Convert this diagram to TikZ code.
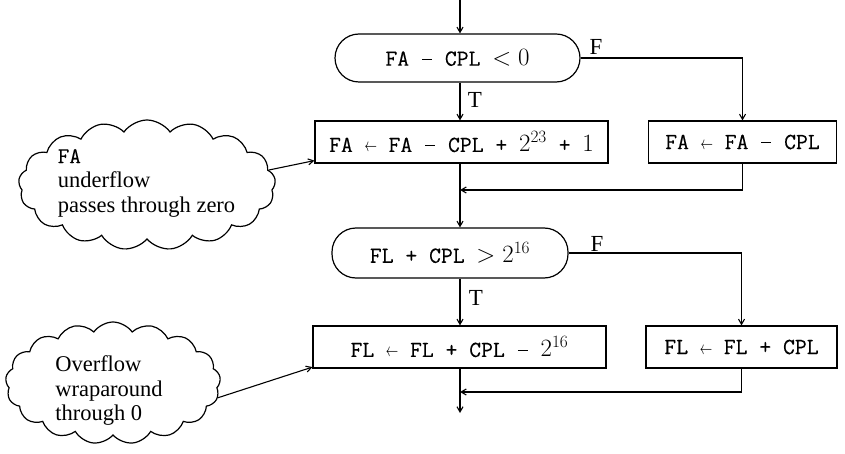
\documentclass[tikz,border=0pt]{standalone}
\usepackage{fontspec}
\setmainfont{Liberation Serif}
\setmonofont{Latin Modern Mono}[FakeBold=0.3]
\usetikzlibrary{shapes.symbols,arrows.meta,calc}
\newcommand{\myla}{\makebox[0.525em]{\scalebox{0.5}[0.75]{$\leftarrow$}}}
\newcommand{\mymi}{\makebox[0.525em]{\rule[0.25em]{0.42em}{0.055em}}}
\begin{document}
\begin{tikzpicture}[x=1pt,y=-1pt,
  conn/.style={line width=1.1pt,-{Straight Barb[angle=60:6pt,line width=1.1pt]}},
  plain/.style={line width=1.1pt},
  stadium/.style={draw,line width=1.2pt,rounded corners=24pt,inner sep=0pt,font=\fontsize{23}{26}\selectfont},
  procbox/.style={draw,line width=1.2pt,inner sep=0pt,font=\fontsize{23}{26}\selectfont},
  cloudshape/.style={draw,cloud,cloud puffs=17,cloud puff arc=110,cloud ignores aspect,inner sep=0pt,line width=1.2pt},
  cloudtext/.style={align=left,font=\fontsize{22.5}{24.5}\selectfont,inner sep=0pt},
  tf/.style={font=\fontsize{23}{26}\selectfont,inner sep=0pt}]
\useasboundingbox (0,0) rectangle (845,454);

\coordinate (top) at (460,0);
\node[stadium,minimum width=245pt,minimum height=48pt] (s1) at (457.5,58) {\ttfamily FA \mymi{} CPL $<0$};
\node[procbox,minimum width=293pt,minimum height=42pt] (b1) at (461.5,142) {\ttfamily FA \myla{} FA \mymi{} CPL + $2^{23}$ + $1$};
\node[procbox,minimum width=188pt,minimum height=42pt] (b2) at (742.5,142) {\ttfamily FA \myla{} FA \mymi{} CPL};
\node[stadium,minimum width=236pt,minimum height=50pt] (s2) at (450,253) {\ttfamily FL + CPL $>2^{16}$};
\node[procbox,minimum width=293pt,minimum height=42pt] (b3) at (459.5,347) {\ttfamily FL \myla{} FL + CPL \mymi{} $2^{16}$};
\node[procbox,minimum width=191pt,minimum height=42pt] (b4) at (741.5,347) {\ttfamily FL \myla{} FL + CPL};
\coordinate (j1) at (460,190);
\coordinate (j2) at (460,392);
\coordinate (bot) at (460,413);

\node[tf] (f1) at (596,47) {F};
\node[tf] (t1) at (475,100) {T};
\node[tf] (f2) at (597,244) {F};
\node[tf] (t2) at (476,298) {T};

% main flow
\draw[conn] (top) -- (top |- s1.north);
\draw[conn] (top |- s1.south) -- (top |- b1.north);
\draw[conn] (s1.east) -| (b2.north);
\draw[plain] (top |- b1.south) -- (j1);
\draw[conn] (b2.south) |- (j1);
\draw[conn] (j1) -- (top |- s2.north);
\draw[conn] (top |- s2.south) -- (top |- b3.north);
\draw[conn] (s2.east) -| (b4.north);
\draw[plain] (top |- b3.south) -- (j2);
\draw[conn] (b4.south) |- (j2);
\draw[conn] (j2) -- (bot);

% clouds
\node[cloudshape,minimum width=257pt,minimum height=130pt] (c1) at (147,185) {};
\node[cloudtext] (c1t) at (146.5,183) {{\ttfamily FA}\\underflow\\passes through zero};
\node[cloudshape,minimum width=215pt,minimum height=122pt] (c2) at (113,383) {};
\node[cloudtext] (c2t) at (109,391) {Overflow\\wraparound\\through 0};

\draw[conn] (c1.7) -- ([yshift=3pt]b1.south west);
\draw[conn] (c2.-8) -- ([yshift=1.5pt]b3.south west);
\end{tikzpicture}
\end{document}
